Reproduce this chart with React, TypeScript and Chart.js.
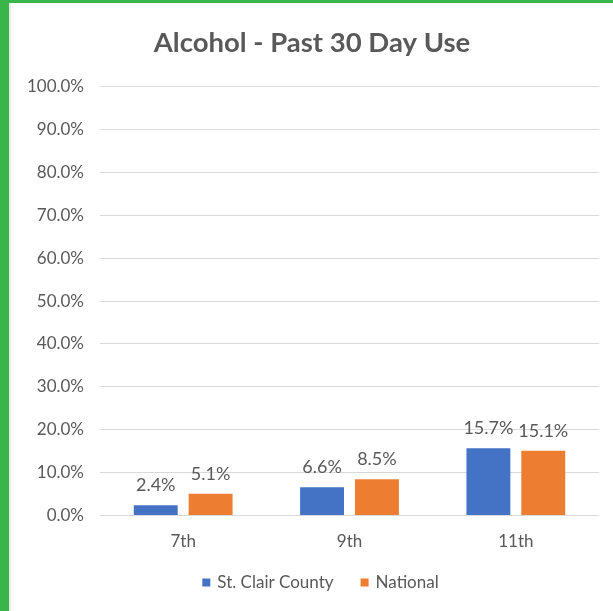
import React, { useEffect, useRef } from "react";
import { Chart, registerables } from "chart.js";

Chart.register(...registerables);

const title = "Alcohol - Past 30 Day Use";
const categories = ["7th", "9th", "11th"];
const seriesNames = ["St. Clair County", "National"];
const stClairCounty = [2.4, 6.6, 15.7];
const national = [5.1, 8.5, 15.1];
const seriesColors = ["#4472C4", "#ED7D31"];
const yMin = 0;
const yMax = 100;
const yStep = 10;

const TEXT = "#595959";
const FONT = "Lato, 'Open Sans', sans-serif";

const valueLabels = {
  id: "valueLabels",
  afterDatasetsDraw(chart: any) {
    const ctx = chart.ctx;
    ctx.save();
    ctx.fillStyle = TEXT;
    ctx.font = `18px ${FONT}`;
    ctx.textAlign = "center";
    ctx.textBaseline = "alphabetic";
    chart.data.datasets.forEach((ds: any, di: number) => {
      const meta = chart.getDatasetMeta(di);
      meta.data.forEach((el: any, i: number) => {
        const v = ds.data[i] as number;
        ctx.fillText(v.toFixed(1) + "%", el.x, el.y - 14);
      });
    });
    ctx.restore();
  },
};

// Bottom legend drawn from the datasets (box 8px, 7px gap to text, 27px between items)
const bottomLegend = {
  id: "bottomLegend",
  afterDraw(chart: any) {
    const ctx = chart.ctx;
    ctx.save();
    ctx.font = `17px ${FONT}`;
    ctx.textBaseline = "middle";
    ctx.textAlign = "left";
    const box = 8;
    const gap = 7;
    const itemGap = 27;
    const items = chart.data.datasets.map((ds: any) => ({
      label: ds.label as string,
      color: ds.backgroundColor as string,
      w: ctx.measureText(ds.label).width,
    }));
    const total =
      items.reduce((s: number, it: any) => s + box + gap + it.w, 0) + itemGap * (items.length - 1);
    const cx = 311.5;
    const cy = 579.5;
    let x = cx - total / 2;
    items.forEach((it: any) => {
      ctx.fillStyle = it.color;
      ctx.fillRect(x, cy - box / 2, box, box);
      x += box + gap;
      ctx.fillStyle = TEXT;
      ctx.fillText(it.label, x, cy);
      x += it.w + itemGap;
    });
    ctx.restore();
  },
};

export default function App() {
  const ref = useRef<HTMLCanvasElement | null>(null);

  useEffect(() => {
    if (!ref.current) return;
    const chart = new Chart(ref.current, {
      type: "bar",
      data: {
        labels: categories,
        datasets: [
          {
            label: seriesNames[0],
            data: stClairCounty,
            backgroundColor: seriesColors[0],
            barPercentage: 0.8,
            categoryPercentage: 0.66,
          },
          {
            label: seriesNames[1],
            data: national,
            backgroundColor: seriesColors[1],
            barPercentage: 0.8,
            categoryPercentage: 0.66,
          },
        ],
      },
      options: {
        responsive: false,
        animation: false,
        layout: { padding: { left: 16, right: 14, top: 0, bottom: 43 } },
        plugins: {
          title: {
            display: true,
            text: title,
            color: TEXT,
            font: { family: FONT, size: 27.5, weight: "bold" },
            padding: { top: 23.5, bottom: 27 },
          },
          legend: { display: false },
          tooltip: { enabled: false },
        },
        scales: {
          x: {
            grid: { display: false, drawTicks: false },
            border: { display: false },
            ticks: { color: TEXT, font: { family: FONT, size: 17 }, padding: 16 },
          },
          y: {
            min: yMin,
            max: yMax,
            afterFit(scale: any) {
              scale.width = 75;
            },
            grid: { color: "#d9d9d9", lineWidth: 1, drawTicks: false },
            border: { display: false },
            ticks: {
              stepSize: yStep,
              color: TEXT,
              font: { family: FONT, size: 17 },
              padding: 16,
              callback: (v: any) => Number(v).toFixed(1) + "%",
            },
          },
        },
      },
      plugins: [valueLabels, bottomLegend],
    });
    return () => chart.destroy();
  }, []);

  return (
    <div
      style={{
        position: "absolute",
        left: 0,
        top: 0,
        width: 613,
        height: 611,
        background: "#ffffff",
        overflow: "hidden",
      }}
    >
      <div style={{ position: "absolute", left: 0, top: 0, width: 613, height: 3, background: "#39B54A" }} />
      <div style={{ position: "absolute", left: 0, top: 0, width: 9, height: 611, background: "#39B54A" }} />
      <div style={{ position: "absolute", left: 9, top: 3, width: 2, height: 608, background: "#e9e9e9" }} />
      <canvas ref={ref} width={604} height={608} style={{ position: "absolute", left: 9, top: 3 }} />
    </div>
  );
}
